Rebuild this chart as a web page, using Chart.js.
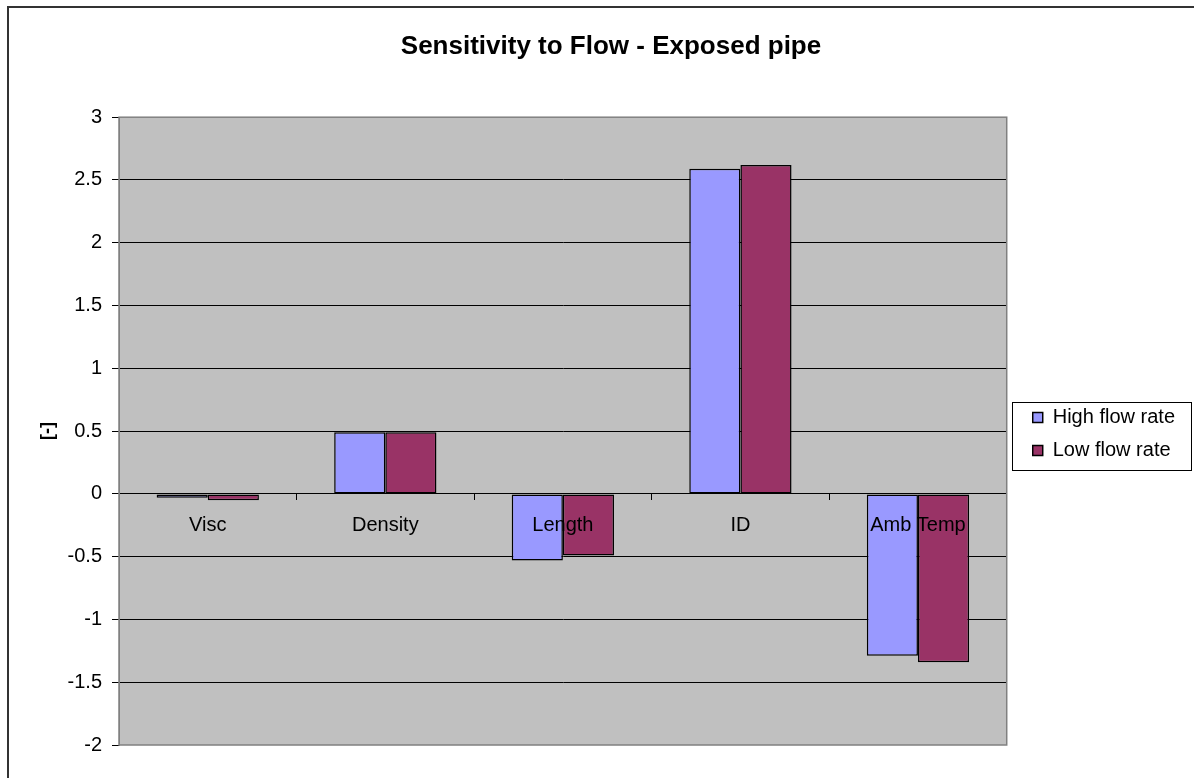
<!DOCTYPE html>
<html><head><meta charset="utf-8">
<script src="https://cdn.jsdelivr.net/npm/chart.js@4"></script>
<style>html,body{margin:0;padding:0;background:#fff}canvas{display:block}</style>
</head><body>
<canvas id="c" width="1194" height="778"></canvas>
<script>
// Sensitivity of flow to each pipe parameter, for two flow rates
const categories = ['Visc', 'Density', 'Length', 'ID', 'Amb Temp'];
const highFlow = [-0.03, 0.49, -0.53, 2.59, -1.29];
const lowFlow = [-0.05, 0.49, -0.49, 2.62, -1.34];
const seriesNames = ['High flow rate', 'Low flow rate'];
const yMin = -2, yMax = 3, yStep = 0.5;

const FONT = "'Liberation Sans', Arial, sans-serif";

// Chart frame, grey plot background and the legend's box
const frame = {
  id: 'frame',
  beforeDraw(chart) {
    const {ctx, chartArea: a} = chart;
    ctx.save();
    ctx.fillStyle = '#fff';
    ctx.fillRect(0, 0, chart.width, chart.height);
    ctx.strokeStyle = '#333';
    ctx.lineWidth = 2;
    ctx.strokeRect(8, 7, chart.width + 20, chart.height + 20);
    ctx.fillStyle = '#C0C0C0';
    ctx.fillRect(a.left, a.top, a.right - a.left, a.bottom - a.top);
    ctx.restore();
  },
  beforeDatasetsDraw(chart) {
    const {ctx, chartArea: a} = chart;
    ctx.save();
    ctx.strokeStyle = '#808080';
    ctx.lineWidth = 1.5;
    ctx.strokeRect(a.left, a.top, a.right - a.left, a.bottom - a.top);
    ctx.restore();
  },
  afterDraw(chart) {
    const lg = chart.legend;
    if (!lg || !lg.legendHitBoxes || !lg.legendHitBoxes.length) return;
    const hb = lg.legendHitBoxes;
    const x0 = Math.min(...hb.map(h => h.left)) - 21;
    const x1 = Math.max(...hb.map(h => h.left + h.width)) + 16;
    const y0 = hb[0].top - 6;
    const last = hb[hb.length - 1];
    const y1 = last.top + last.height + 9;
    const ctx = chart.ctx;
    ctx.save();
    ctx.strokeStyle = '#000';
    ctx.lineWidth = 1;
    ctx.strokeRect(Math.round(x0) + 0.5, Math.round(y0) + 0.5, Math.round(x1 - x0), Math.round(y1 - y0));
    ctx.restore();
  }
};

new Chart(document.getElementById('c'), {
  type: 'bar',
  data: {
    labels: categories,
    datasets: [
      {label: seriesNames[0], data: highFlow, backgroundColor: '#9999FF', borderColor: '#000', borderWidth: 1.5, borderSkipped: false},
      {label: seriesNames[1], data: lowFlow, backgroundColor: '#993366', borderColor: '#000', borderWidth: 1.5, borderSkipped: false}
    ]
  },
  options: {
    responsive: false,
    animation: false,
    events: [],
    categoryPercentage: 0.576,
    barPercentage: 1,
    layout: {padding: {left: 37, right: 9, top: 0, bottom: 33}},
    plugins: {
      title: {
        display: true,
        text: 'Sensitivity to Flow - Exposed pipe',
        color: '#000',
        font: {family: FONT, size: 26, weight: 'bold'},
        padding: {top: 31, bottom: 55}
      },
      legend: {
        position: 'right',
        align: 'center',
        fullSize: false,
        title: {display: true, text: ' ', padding: 0, font: {size: 5}},
        labels: {
          color: '#000',
          font: {family: FONT, size: 20},
          boxWidth: 10,
          boxHeight: 10,
          padding: 13
        }
      },
      tooltip: {enabled: false}
    },
    scales: {
      x: {
        position: {y: 0},
        offset: true,
        afterFit(s) { s.height = 0; },
        grid: {display: true, drawOnChartArea: false, drawTicks: true, tickLength: 6, color: '#000', offset: true},
        border: {display: true, color: '#000', width: 1},
        ticks: {z: 1, color: '#000', font: {family: FONT, size: 20}, padding: 14, maxRotation: 0, autoSkip: false}
      },
      y: {
        min: yMin,
        max: yMax,
        afterFit(s) { s.width = 82; },
        ticks: {
          stepSize: yStep,
          color: '#000',
          font: {family: FONT, size: 20},
          padding: 10,
          callback: v => String(Math.round(v * 10) / 10)
        },
        grid: {
          color: c => (c.tick && (c.tick.value === yMax || c.tick.value === yMin)) ? 'rgba(0,0,0,0)' : '#000',
          tickColor: '#000',
          tickLength: 7,
          lineWidth: 1
        },
        border: {display: true, color: '#808080', width: 1},
        title: {display: true, text: '[-]', color: '#000', font: {family: FONT, size: 18, weight: 'bold'}, padding: 0}
      },
      gap: {
        type: 'linear',
        position: 'right',
        display: true,
        afterFit(s) { s.width = 13; },
        grid: {display: false},
        border: {display: false},
        ticks: {display: false}
      }
    }
  },
  plugins: [frame]
});
</script>
</body></html>
